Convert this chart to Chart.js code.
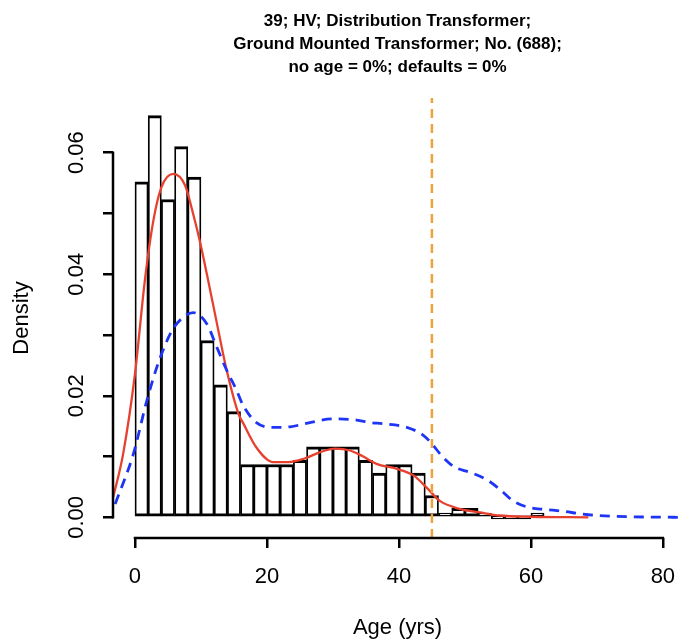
<!DOCTYPE html>
<html>
<head>
<meta charset="utf-8">
<script src="https://cdn.jsdelivr.net/npm/chart.js@4/dist/chart.umd.min.js"></script>
<style>
  html, body { margin: 0; padding: 0; background: #fff; }
  #wrap { width: 682px; height: 640px; }
</style>
</head>
<body>
<div id="wrap"><canvas id="c" width="682" height="640"></canvas></div>
<script>
// ---- data ----
const titleLines = ["39; HV; Distribution Transformer;", "Ground Mounted Transformer; No. (688);", "no age = 0%; defaults = 0%"];
const xTitle = "Age (yrs)";
const yTitle = "Density";
const xTicks = [0, 20, 40, 60, 80];
const yTicks = [0, 0.01, 0.02, 0.03, 0.04, 0.05, 0.06];
const binWidth = 2;
const binStarts = [0,2,4,6,8,10,12,14,16,18,20,22,24,26,28,30,32,34,36,38,40,42,44,46,48,50,52,54,56,58,60];
const binDensity = [0.0552,0.0661,0.0523,0.0610,0.0560,0.0291,0.0218,0.0174,0.0087,0.0087,0.0087,0.0087,0.0094,0.0116,0.0116,0.0116,0.0116,0.0094,0.0073,0.0087,0.0087,0.0073,0.0036,0.0007,0.0015,0.0015,0.0007,0,0,0,0.0007];
const redAge =     [-3.3, -1.8, 0, 1.5, 2.8, 4.0, 5.8, 7.6, 8.8, 9.8, 10.9, 12.4, 13.9, 15.7, 16.4, 18.4, 20.9, 23.3, 25.5, 28, 30.3, 32.6, 34.6, 36.6, 39.6, 42.2, 44.2, 46.2, 49.2, 52.3, 55.3, 60, 68.7];
const redDensity = [0.0033, 0.0104, 0.0236, 0.039, 0.0489, 0.0543, 0.0565, 0.0546, 0.050, 0.0456, 0.040, 0.032, 0.0242, 0.017, 0.0155, 0.0115, 0.0091, 0.0091, 0.0096, 0.0107, 0.0113, 0.011, 0.0100, 0.0088, 0.0080, 0.0069, 0.0049, 0.0027, 0.0014, 0.0008, 0.0003, 0.0001, 0.0];
const blueAge =     [-3.0, -0.25, 1.8, 3.5, 5.6, 7.3, 8.8, 10.9, 12.4, 13.9, 15.4, 16.4, 18.4, 20.9, 23.5, 26.5, 30, 33.6, 35.6, 37.6, 41.2, 43.7, 45, 46.5, 48.4, 50.8, 53.3, 55.3, 57.3, 59.8, 62.1, 64.9, 67.4, 70, 75, 83];
const blueDensity = [0.0022, 0.0104, 0.0192, 0.0253, 0.0307, 0.0329, 0.0337, 0.0318, 0.028, 0.0242, 0.0209, 0.0184, 0.0156, 0.0148, 0.0149, 0.0156, 0.0162, 0.016, 0.0156, 0.0154, 0.0148, 0.0135, 0.0121, 0.0101, 0.0083, 0.0074, 0.0062, 0.0046, 0.0027, 0.0016, 0.0013, 0.0010, 0.0006, 0.0003, 0.0001, 0.0];
const thresholdAge = 45;
const xRange = [-3.33, 82.9];
const yRange = [-0.0034, 0.069];

// ---- chart ----
const FONT = "'Liberation Sans', Arial, Helvetica, sans-serif";

const rAxes = {
  id: 'rAxes',
  afterDraw(chart) {
    const {ctx, chartArea, scales: {x, y}} = chart;
    ctx.save();
    ctx.strokeStyle = '#000';
    ctx.lineWidth = 2.5;
    ctx.beginPath();
    ctx.moveTo(x.getPixelForValue(xTicks[0]) - 1.25, chartArea.bottom);
    ctx.lineTo(x.getPixelForValue(xTicks[xTicks.length - 1]) + 1.25, chartArea.bottom);
    ctx.moveTo(chartArea.left, y.getPixelForValue(yTicks[0]) + 1.25);
    ctx.lineTo(chartArea.left, y.getPixelForValue(yTicks[yTicks.length - 1]) - 1.25);
    ctx.stroke();
    ctx.restore();
  }
};

new Chart(document.getElementById('c'), {
  type: 'bar',
  data: {
    datasets: [
      {
        type: 'line',
        order: 0,
        data: [{x: thresholdAge, y: yRange[0]}, {x: thresholdAge, y: yRange[1]}],
        borderColor: '#EDA23A',
        borderWidth: 2.5,
        borderDash: [9, 6],
        pointRadius: 0,
        fill: false
      },
      {
        type: 'line',
        order: 1,
        data: blueAge.map((a, i) => ({x: a, y: blueDensity[i]})),
        borderColor: '#1F35F5',
        borderWidth: 2.8,
        borderDash: [10, 7],
        pointRadius: 0,
        cubicInterpolationMode: 'monotone',
        fill: false
      },
      {
        type: 'line',
        order: 2,
        data: redAge.map((a, i) => ({x: a, y: redDensity[i]})),
        borderColor: '#E8402F',
        borderWidth: 2.3,
        pointRadius: 0,
        cubicInterpolationMode: 'monotone',
        fill: false
      },
      {
        type: 'bar',
        order: 3,
        data: binStarts.map((s, i) => ({x: s + binWidth / 2, y: binDensity[i]})),
        backgroundColor: '#fff',
        borderColor: '#000',
        borderWidth: {top: 3, left: 1.8, right: 1.8, bottom: 3},
        borderSkipped: false,
        barPercentage: 1,
        categoryPercentage: 1,
        minBarLength: 3
      }
    ]
  },
  options: {
    responsive: false,
    animation: false,
    devicePixelRatio: 1,
    layout: {padding: 0},
    plugins: {
      legend: {display: false},
      tooltip: {enabled: false},
      title: {
        display: true,
        fullSize: false,
        text: titleLines,
        color: '#000',
        font: {family: FONT, size: 17, weight: 'bold', lineHeight: 23 / 17},
        padding: {top: 9.5, bottom: 19.5}
      }
    },
    scales: {
      x: {
        type: 'linear',
        offset: false,
        min: xRange[0],
        max: xRange[1],
        afterBuildTicks: s => { s.ticks = xTicks.map(v => ({value: v})); },
        afterFit: s => { s.height = 102; s.paddingLeft = 0; s.paddingRight = 0; },
        grid: {offset: false, drawOnChartArea: false, drawTicks: true, tickLength: 10, color: '#000', lineWidth: 2.5},
        border: {display: false},
        ticks: {
          color: '#000',
          font: {family: FONT, size: 22},
          padding: 16,
          maxRotation: 0,
          autoSkip: false,
          callback: v => String(v)
        },
        title: {
          display: true,
          text: xTitle,
          color: '#000',
          font: {family: FONT, size: 22, lineHeight: 1},
          padding: {top: 0, bottom: 1}
        }
      },
      y: {
        type: 'linear',
        min: yRange[0],
        max: yRange[1],
        afterBuildTicks: s => { s.ticks = yTicks.map(v => ({value: v})); },
        afterFit: s => { s.width = 113; s.paddingTop = 0; s.paddingBottom = 0; },
        grid: {drawOnChartArea: false, drawTicks: true, tickLength: 10, color: '#000', lineWidth: 2.5},
        border: {display: false},
        ticks: {
          color: '#000',
          font: {family: FONT, size: 22},
          minRotation: 90,
          maxRotation: 90,
          crossAlign: 'center',
          padding: 5,
          autoSkip: false,
          callback: (v, i) => (i % 2 === 0 ? Number(v).toFixed(2) : '')
        },
        title: {
          display: true,
          text: yTitle,
          color: '#000',
          font: {family: FONT, size: 22, lineHeight: 1},
          padding: {top: 11, bottom: 0}
        }
      }
    }
  },
  plugins: [rAxes]
});
</script>
</body>
</html>
